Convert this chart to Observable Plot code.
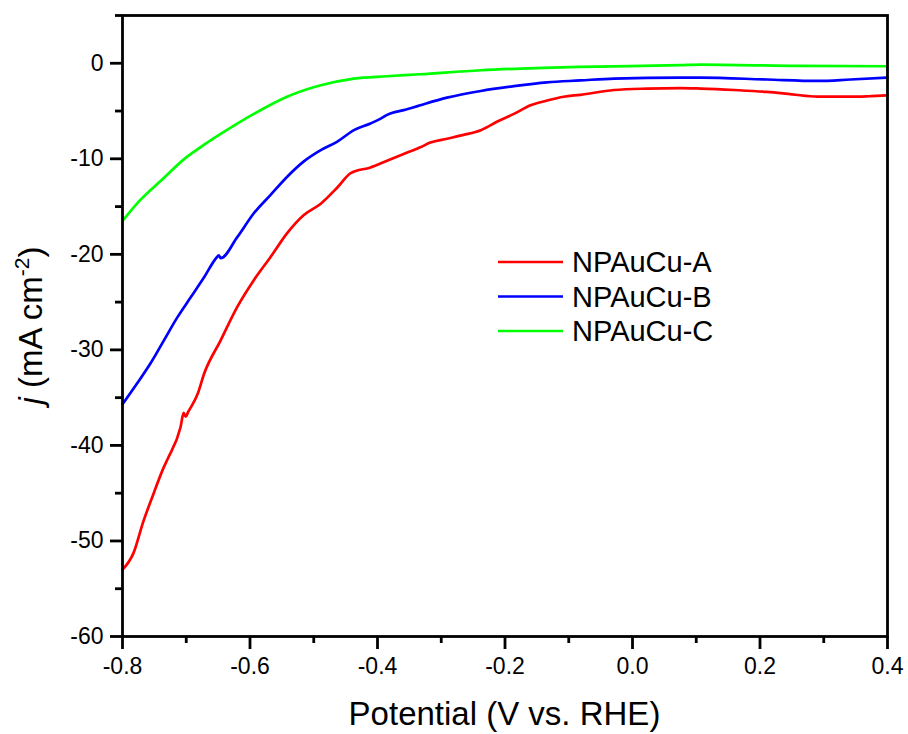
<!DOCTYPE html>
<html>
<head>
<meta charset="utf-8">
<script src="https://cdn.jsdelivr.net/npm/d3@7"></script>
<script src="https://cdn.jsdelivr.net/npm/@observablehq/plot@0.6"></script>
<style>
  html, body { margin: 0; padding: 0; background: #fff; }
  #chart { width: 908px; height: 734px; }
</style>
</head>
<body>
<div id="chart"></div>
<script>
// Series names and colours
const seriesNames = ["NPAuCu-A", "NPAuCu-B", "NPAuCu-C"];
const seriesColors = ["#ff0000", "#0000ff", "#00ff00"];

// NPAuCu-A: potential (V vs RHE) and current density (mA cm^-2)
const potA = [-0.800, -0.783, -0.767, -0.751, -0.736, -0.729, -0.709, -0.704, -0.701, -0.697, -0.682, -0.672, -0.646, -0.620, -0.594, -0.568, -0.542, -0.516, -0.489, -0.463, -0.442, -0.411, -0.385, -0.359, -0.333, -0.317, -0.291, -0.265, -0.238, -0.212, -0.186, -0.160, -0.134, -0.108, -0.082, -0.029, 0.023, 0.075, 0.107, 0.160, 0.211, 0.250, 0.290, 0.342, 0.370, 0.400];
const jA   = [-53.0, -51.3, -47.9, -45.0, -42.4, -41.4, -38.1, -36.6, -37.0, -36.5, -34.6, -32.5, -29.0, -25.5, -22.7, -20.3, -17.8, -15.9, -14.7, -13.0, -11.5, -10.9, -10.2, -9.5, -8.8, -8.3, -7.9, -7.5, -7.0, -6.1, -5.3, -4.4, -3.9, -3.5, -3.3, -2.8, -2.65, -2.6, -2.65, -2.8, -3.0, -3.25, -3.5, -3.5, -3.45, -3.35];

// NPAuCu-B
const potB = [-0.800, -0.777, -0.756, -0.735, -0.714, -0.693, -0.672, -0.652, -0.649, -0.646, -0.620, -0.594, -0.568, -0.542, -0.516, -0.489, -0.463, -0.437, -0.411, -0.395, -0.385, -0.359, -0.343, -0.333, -0.291, -0.238, -0.186, -0.134, -0.082, -0.029, 0.075, 0.107, 0.211, 0.290, 0.342, 0.400];
const jB   = [-35.7, -33.5, -31.4, -29.0, -26.6, -24.5, -22.4, -20.3, -20.1, -20.4, -18.2, -15.7, -13.8, -11.9, -10.3, -9.1, -8.2, -7.0, -6.3, -5.8, -5.4, -4.9, -4.6, -4.4, -3.6, -2.9, -2.4, -2.0, -1.8, -1.6, -1.5, -1.5, -1.7, -1.85, -1.7, -1.5];

// NPAuCu-C
const potC = [-0.800, -0.772, -0.740, -0.699, -0.678, -0.646, -0.594, -0.542, -0.489, -0.437, -0.385, -0.333, -0.238, -0.082, 0.075, 0.107, 0.260, 0.400];
const jC   = [-16.5, -14.3, -12.3, -9.8, -8.8, -7.4, -5.3, -3.5, -2.3, -1.6, -1.36, -1.15, -0.73, -0.38, -0.2, -0.14, -0.28, -0.31];

// Tick values
const xMajorTicks = [-0.8, -0.6, -0.4, -0.2, 0.0, 0.2, 0.4];
const xMinorTicks = [-0.7, -0.5, -0.3, -0.1, 0.1, 0.3];
const yMajorTicks = [-60, -50, -40, -30, -20, -10, 0];
const yMinorTicks = [-55, -45, -35, -25, -15, -5, 5];

// Build a tidy table
const data = [];
[[potA, jA], [potB, jB], [potC, jC]].forEach(([p, j], k) => {
  p.forEach((v, i) => data.push({series: seriesNames[k], potential: v, j: j[i]}));
});

const W = 908, H = 734;
const mL = 122, mR = 21, mT = 15, mB = 98;

const plot = Plot.plot({
  width: W,
  height: H,
  marginLeft: mL,
  marginRight: mR,
  marginTop: mT,
  marginBottom: mB,
  style: {fontFamily: "'Liberation Sans', Arial, sans-serif", fontSize: "23px", color: "#000", background: "#fff"},
  x: {domain: [-0.8, 0.4], label: null},
  y: {domain: [-60, 5], label: null},
  color: {domain: seriesNames, range: seriesColors},
  marks: [
    Plot.axisX({ticks: xMajorTicks, tickSize: 13, tickPadding: 8, strokeWidth: 2.8, tickFormat: d => d.toFixed(1), fontSize: 23, label: null}),
    Plot.axisX({ticks: xMinorTicks, tickSize: 7, strokeWidth: 2.8, text: null, label: null}),
    Plot.axisY({ticks: yMajorTicks, tickSize: 12, tickPadding: 7, strokeWidth: 2.8, tickFormat: d => String(d), fontSize: 23, label: null}),
    Plot.axisY({ticks: yMinorTicks, tickSize: 7, strokeWidth: 2.8, text: null, label: null}),
    Plot.line(data, {x: "potential", y: "j", z: "series", stroke: "series", strokeWidth: 2.7, curve: "monotone-x"}),
    Plot.frame({stroke: "#000", strokeWidth: 2.8})
  ]
});

document.getElementById("chart").appendChild(plot);

const svg = d3.select(plot);
const font = "'Liberation Sans', Arial, sans-serif";

// x-axis title
svg.append("text")
  .attr("x", mL + (W - mL - mR) / 2)
  .attr("y", 725)
  .attr("text-anchor", "middle")
  .attr("font-family", font)
  .attr("font-size", 33)
  .attr("fill", "#000")
  .text("Potential (V vs. RHE)");

// y-axis title
const yt = svg.append("text")
  .attr("transform", `translate(42, ${mT + (H - mT - mB) / 2}) rotate(-90)`)
  .attr("text-anchor", "middle")
  .attr("font-family", font)
  .attr("font-size", 33)
  .attr("fill", "#000");
yt.append("tspan").attr("font-style", "italic").text("j");
yt.append("tspan").text(" (mA cm");
yt.append("tspan").attr("font-size", 21).attr("dy", -13).text("-2");
yt.append("tspan").attr("dy", 13).text(")");

// legend
const lg = svg.append("g");
seriesNames.forEach((name, i) => {
  const cy = 262 + i * 34.5;
  lg.append("line")
    .attr("x1", 498).attr("x2", 563)
    .attr("y1", cy).attr("y2", cy)
    .attr("stroke", seriesColors[i]).attr("stroke-width", 2.7);
  lg.append("text")
    .attr("x", 572).attr("y", cy + 10)
    .attr("text-anchor", "start")
    .attr("font-family", font)
    .attr("font-size", 29)
    .attr("fill", "#000")
    .text(name);
});
</script>
</body>
</html>
